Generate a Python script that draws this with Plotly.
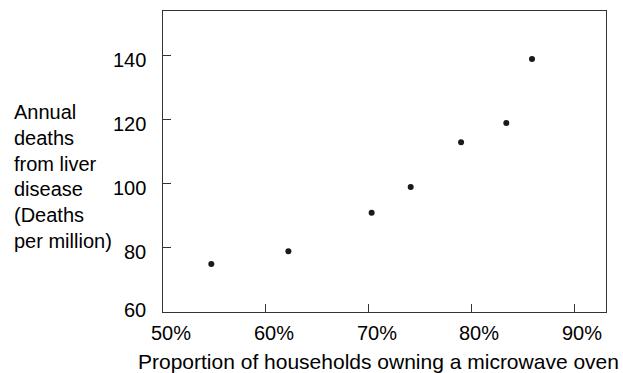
import plotly.graph_objects as go

# Microwave ownership vs. liver-disease deaths
ownership_pct = [54.7, 62.2, 70.3, 74.1, 79.0, 83.4, 85.9]
deaths_per_million = [75, 79, 91, 99, 113, 119, 139]

x_ticks = [50, 60, 70, 80, 90]
x_tick_labels = ["50%", "60%", "70%", "80%", "90%"]
y_ticks = [60, 80, 100, 120, 140]
y_tick_labels = ["60", "80", "100", "120", "140"]

y_title_lines = ["Annual", "deaths", "from liver", "disease", "(Deaths", "per million)"]
x_title = "Proportion of households owning a microwave oven"

W, H = 623, 373
ML, MR, MT, MB = 163, 17, 11, 61
PW, PH = W - ML - MR, H - MT - MB
Y_RANGE = [60, 154]

FONT = "Liberation Sans, Arial, Helvetica, sans-serif"
TEXT = dict(family=FONT, size=20, color="#000")


def px_to_paper(xp, yp):
    return (xp - ML) / PW, 1 - (yp - MT) / PH


fig = go.Figure(
    go.Scatter(
        x=ownership_pct,
        y=deaths_per_million,
        mode="markers",
        marker=dict(size=6, color="#1a1a1a"),
        hoverinfo="x+y",
    )
)

annotations = []

# tick labels, set slightly off their ticks
for v, lab in zip(x_ticks, x_tick_labels):
    annotations.append(dict(
        text=lab, x=v, y=0, xref="x", yref="paper",
        xanchor="center", yanchor="top", xshift=8, yshift=-8,
        showarrow=False, font=TEXT,
    ))
for v, lab in zip(y_ticks, y_tick_labels):
    # the bottom label is lifted so it clears the x labels
    dy = 2.5 if v == Y_RANGE[0] else -4.5
    annotations.append(dict(
        text=lab, x=0, y=v, xref="paper", yref="y",
        xanchor="right", yanchor="middle", xshift=-15, yshift=dy,
        showarrow=False, font=TEXT,
    ))

# multi-line y-axis title
for i, line in enumerate(y_title_lines):
    ax, ay = px_to_paper(12, 112.5 + 25.6 * i)
    annotations.append(dict(
        text=line, x=ax, y=ay, xref="paper", yref="paper",
        xanchor="left", yanchor="middle", showarrow=False, font=TEXT,
    ))

tx, ty = px_to_paper(378, 361.5)
annotations.append(dict(
    text=x_title, x=tx, y=ty, xref="paper", yref="paper",
    xanchor="center", yanchor="middle", showarrow=False,
    font=dict(family=FONT, size=21, color="#000"),
))

axis_common = dict(
    showline=True, linecolor="#333", linewidth=1, mirror=True,
    showgrid=False, zeroline=False, showticklabels=False,
    ticks="inside", ticklen=8, tickcolor="#333", tickwidth=1,
)

fig.update_layout(
    width=W, height=H,
    margin=dict(l=ML, r=MR, t=MT, b=MB),
    paper_bgcolor="white", plot_bgcolor="white",
    showlegend=False,
    xaxis=dict(range=[50, 93.1], tickmode="array", tickvals=x_ticks, **axis_common),
    yaxis=dict(range=Y_RANGE, tickmode="array", tickvals=y_ticks, **axis_common),
    annotations=annotations,
)

fig.write_html("out.html")
